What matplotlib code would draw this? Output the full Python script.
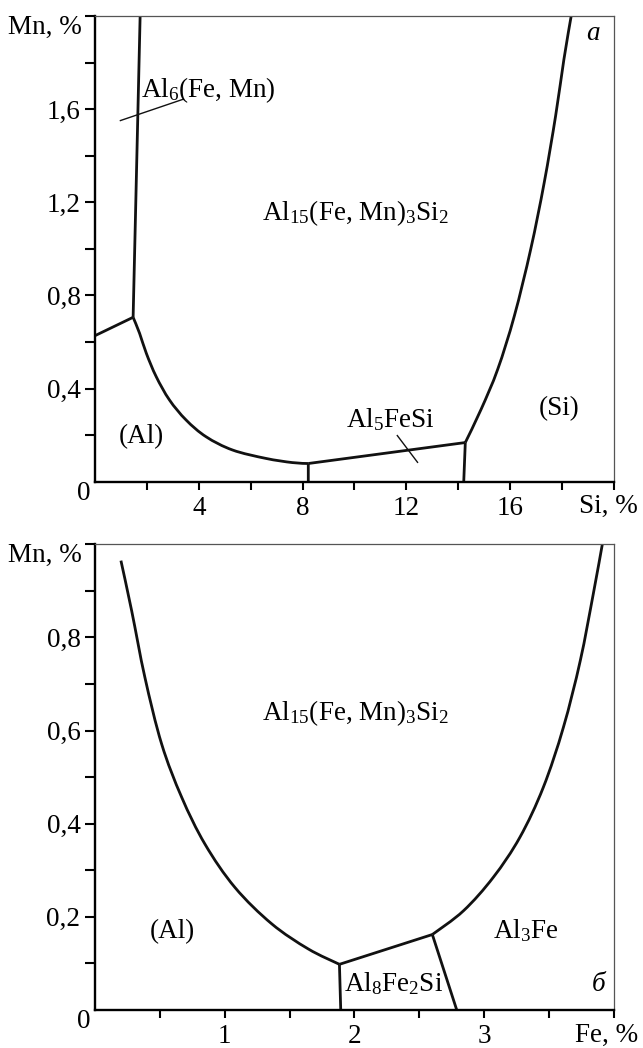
import numpy as np
import matplotlib
matplotlib.use('Agg')
import matplotlib.pyplot as plt
from matplotlib.path import Path
from matplotlib.patches import PathPatch

plt.rcParams['font.family'] = ['Liberation Serif', 'DejaVu Serif']
plt.rcParams['mathtext.fontset'] = 'custom'
plt.rcParams['mathtext.rm'] = 'Liberation Serif'
plt.rcParams['mathtext.it'] = 'Liberation Serif:italic'
FS = 19.5

# ---- panel a: Al-Si-Mn (Si, Mn) ----
a_al6_x = [1.74, 1.47]
a_al6_y = [2.0, 0.706]
a_al_al6_x = [0.0, 1.47]
a_al_al6_y = [0.627, 0.706]
a_al_x = [1.47, 1.72, 1.98, 2.36, 2.87, 3.51, 4.28, 5.30, 6.58, 7.60, 8.22]
a_al_y = [0.706, 0.637, 0.551, 0.451, 0.351, 0.265, 0.193, 0.136, 0.100, 0.082, 0.078]
a_al_al5_x = [8.22, 8.22]
a_al_al5_y = [0.078, 0.0]
a_al5_x = [8.22, 14.27]
a_al5_y = [0.078, 0.168]
a_al5_si_x = [14.27, 14.21]
a_al5_si_y = [0.168, 0.0]
a_si_x = [14.27, 14.88, 15.52, 16.16, 16.79, 17.31, 17.75, 18.07, 18.35]
a_si_y = [0.168, 0.311, 0.483, 0.712, 0.998, 1.284, 1.571, 1.814, 2.0]

a_xticks = [4, 8, 12, 16, 20]
a_xticklabels = ['4', '8', '12', '16', '']
a_xname = 'Si, %'
a_xminor = [2, 6, 10, 14, 18]
a_yticks = [0.4, 0.8, 1.2, 1.6]
a_yticklabels = ['0,4', '0,8', '1,2', '1,6']
a_yminor = [0.2, 0.6, 1.0, 1.4, 1.8, 2.0]

# ---- panel b: Al-Fe-Mn (Fe, Mn) ----
b_left_x = [0.20, 0.283, 0.385, 0.514, 0.668, 0.848, 1.079, 1.362, 1.644, 1.884]
b_left_y = [0.965, 0.857, 0.714, 0.571, 0.457, 0.356, 0.263, 0.185, 0.131, 0.098]
b_al_al8_x = [1.884, 1.894]
b_al_al8_y = [0.098, 0.0]
b_al8_x = [1.884, 2.60]
b_al8_y = [0.098, 0.162]
b_al8_fe_x = [2.60, 2.788]
b_al8_fe_y = [0.162, 0.0]
b_right_x = [2.60, 2.84, 3.07, 3.275, 3.455, 3.61, 3.74, 3.84, 3.91]
b_right_y = [0.162, 0.213, 0.285, 0.371, 0.478, 0.607, 0.75, 0.893, 1.0]

b_xticks = [1, 2, 3, 4]
b_xticklabels = ['1', '2', '3', '']
b_xname = 'Fe, %'
b_xminor = [0.5, 1.5, 2.5, 3.5]
b_yticks = [0.2, 0.4, 0.6, 0.8]
b_yticklabels = ['0,2', '0,4', '0,6', '0,8']
b_yminor = [0.1, 0.3, 0.5, 0.7, 0.9, 1.0]

LINE = dict(edgecolor='#111111', lw=2.0, joinstyle='round', capstyle='butt')


def smooth_line(ax, xs, ys):
    # Catmull-Rom through the read points, drawn as cubic bezier segments
    pts = np.column_stack([xs, ys]).astype(float)
    n = len(pts)
    verts = [pts[0]]
    codes = [Path.MOVETO]
    for i in range(n - 1):
        p0 = pts[i - 1] if i > 0 else pts[i]
        p1, p2 = pts[i], pts[i + 1]
        p3 = pts[i + 2] if i + 2 < n else pts[i + 1]
        verts += [p1 + (p2 - p0) / 6, p2 - (p3 - p1) / 6, p2]
        codes += [Path.CURVE4] * 3
    ax.add_patch(PathPatch(Path(verts, codes), fill=False, **LINE))


def style_axis(ax, xlim, ylim, xt, xtl, xm, yt, ytl, ym, xname):
    ax.set_xlim(*xlim)
    ax.set_ylim(*ylim)
    ax.set_xticks(xt)
    ax.set_xticklabels(xtl, fontsize=FS)
    ax.set_xticks(xm, minor=True)
    ax.set_yticks(yt)
    ax.set_yticklabels(ytl, fontsize=FS)
    ax.set_yticks(ym, minor=True)
    ax.tick_params(axis='x', which='both', direction='out', length=6, width=1.5, pad=4)
    ax.tick_params(axis='y', which='both', direction='out', length=7.5, width=1.5, pad=3)
    for s in ['left', 'bottom']:
        ax.spines[s].set_linewidth(1.7)
    for s in ['top', 'right']:
        ax.spines[s].set_linewidth(0.9)
        ax.spines[s].set_color('#555555')
    # axis names at the ends of the axes and the corner zero
    ax.annotate('Mn, %', xy=(0, 1), xycoords='axes fraction', xytext=(-13, -11),
                textcoords='offset pixels', ha='right', va='center', fontsize=FS)
    ax.annotate(xname, xy=(1, 0), xycoords='axes fraction', xytext=(24, -25),
                textcoords='offset pixels', ha='right', va='center', fontsize=FS)
    ax.annotate('0', xy=(0, 0), xycoords='axes fraction', xytext=(-11, -12),
                textcoords='offset pixels', ha='center', va='center', fontsize=FS)


fig = plt.figure(figsize=(6.43, 10.48), dpi=100)
ax1 = fig.add_axes([0.1477, 0.5404, 0.8072, 0.4443])
ax2 = fig.add_axes([0.1477, 0.0363, 0.8072, 0.4443])

for xs, ys in [(a_al6_x, a_al6_y), (a_al_al6_x, a_al_al6_y), (a_al_x, a_al_y),
               (a_al_al5_x, a_al_al5_y), (a_al5_x, a_al5_y), (a_al5_si_x, a_al5_si_y),
               (a_si_x, a_si_y)]:
    smooth_line(ax1, xs, ys)

# leader lines
ax1.plot([0.98, 3.41], [1.551, 1.643], color='#111111', lw=1.0)
ax1.plot([11.65, 12.43], [0.198, 0.083], color='#111111', lw=1.0)

ax1.text(4.36, 1.68, r'Al$_{6}$(Fe, Mn)', fontsize=FS, ha='center', va='center')
ax1.text(10.04, 1.154, r'Al$_{15}$(Fe, Mn)$_{3}$Si$_{2}$', fontsize=FS, ha='center', va='center')
ax1.text(1.8, 0.193, '(Al)', fontsize=FS, ha='center', va='center')
ax1.text(11.4, 0.265, r'Al$_{5}$FeSi', fontsize=FS, ha='center', va='center')
ax1.text(17.9, 0.315, '(Si)', fontsize=FS, ha='center', va='center')
ax1.text(19.2, 1.926, 'а', fontsize=FS, style='italic', ha='center', va='center')

style_axis(ax1, (0, 20), (0, 2.0), a_xticks, a_xticklabels, a_xminor,
           a_yticks, a_yticklabels, a_yminor, a_xname)

for xs, ys in [(b_left_x, b_left_y), (b_al_al8_x, b_al_al8_y), (b_al8_x, b_al8_y),
               (b_al8_fe_x, b_al8_fe_y), (b_right_x, b_right_y)]:
    smooth_line(ax2, xs, ys)

ax2.text(2.006, 0.637, r'Al$_{15}$(Fe, Mn)$_{3}$Si$_{2}$', fontsize=FS, ha='center', va='center')
ax2.text(0.6, 0.168, '(Al)', fontsize=FS, ha='center', va='center')
ax2.text(3.32, 0.170, r'Al$_{3}$Fe', fontsize=FS, ha='center', va='center')
ax2.text(2.30, 0.057, r'Al$_{8}$Fe$_{2}$Si', fontsize=FS, ha='center', va='center')
ax2.text(3.88, 0.054, 'б', fontsize=FS, style='italic', ha='center', va='center')

style_axis(ax2, (0, 4), (0, 1.0), b_xticks, b_xticklabels, b_xminor,
           b_yticks, b_yticklabels, b_yminor, b_xname)

fig.savefig('out.png', dpi=100)
